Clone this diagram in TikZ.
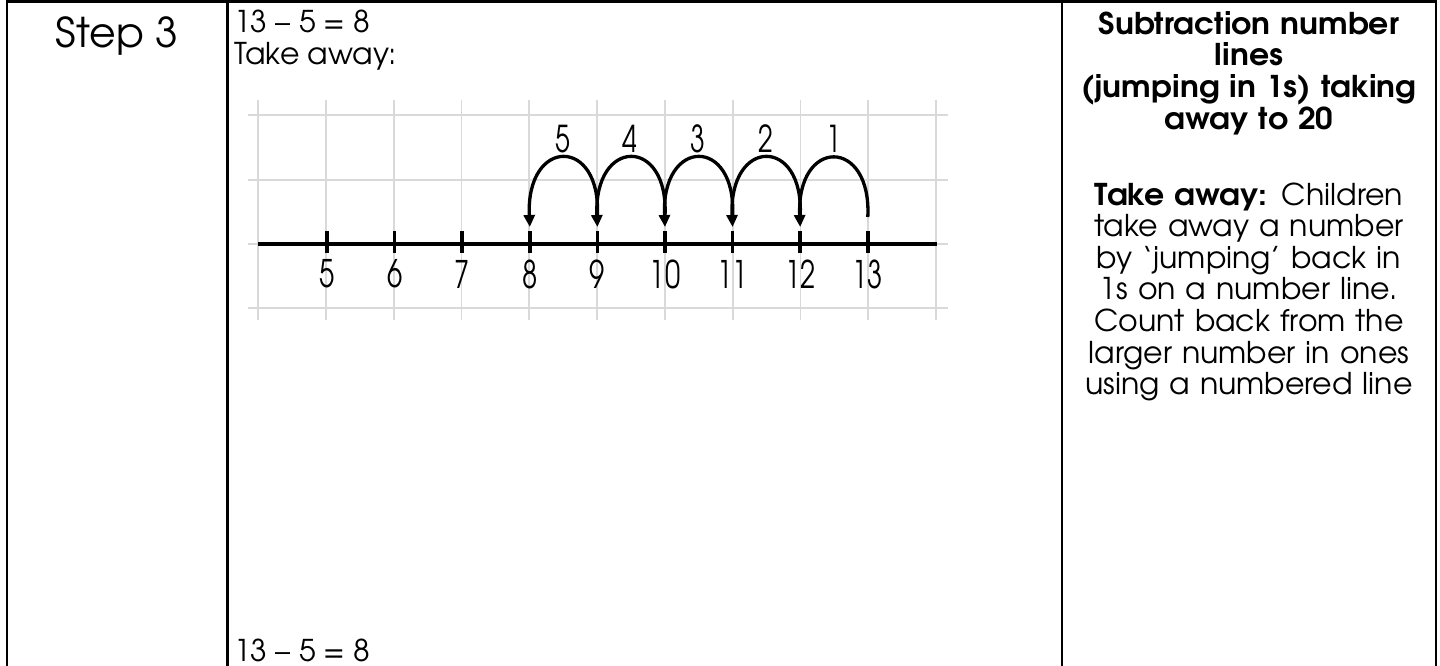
\documentclass[tikz,border=0pt]{standalone}
\usepackage{fontspec}
\setmainfont{texgyreadventor}[Extension=.otf, UprightFont=*-regular, BoldFont=*-bold, ItalicFont=*-italic, BoldItalicFont=*-bolditalic, BoldFeatures={FakeStretch=1.05}]
\newfontfamily\numfont{texgyreadventor}[Extension=.otf, UprightFont=*-regular, FakeStretch=0.72]
\usetikzlibrary{arrows.meta}
\tikzset{
  border/.style={line width=2.2pt, black},
  gridline/.style={line width=1.8pt, black!15},
  axisline/.style={line width=4pt, black},
  tickmark/.style={line width=3.5pt, black},
  jump/.style={line width=3.3pt, black, -{Triangle[length=12pt,width=11pt]}},
  ticklabel/.style={font=\numfont\fontsize{38}{38}\selectfont, inner sep=0pt},
  jumplabel/.style={font=\numfont\fontsize{37}{37}\selectfont, inner sep=0pt},
  bodytext/.style={font=\fontsize{30}{31.6}\selectfont, inner sep=0pt, anchor=base west},
}
\begin{document}
\begin{tikzpicture}[x=1pt,y=-1pt]
\useasboundingbox (0,0) rectangle (1440,666);
\fill[white] (0,0) rectangle (1440,666);

% table borders
\draw[border] (6,1.5) -- (1437,1.5);
\draw[border] (7,0.5) -- (7,666);
\draw[border] (227.5,0.5) -- (227.5,666);
\draw[border] (1062,0.5) -- (1062,666);
\draw[border] (1436,0.5) -- (1436,666);

% column 1
\node[font=\fontsize{41}{41}\selectfont, inner sep=0pt, anchor=base] (step) at (117,48) {Step 3};

% column 2 texts
\node[bodytext] (eq1) at (234,33) {13 – 5 = 8};
\node[bodytext] (take) at (234,64.5) {Take away:};
\node[bodytext] (eq2) at (234,661) {13 – 5 = 8};

% grid
\foreach \i in {0,...,10} {
  \draw[gridline] (258+67.8*\i,100) -- (258+67.8*\i,320);
}
\foreach \yy in {115,180,244,308} {
  \draw[gridline] (248,\yy) -- (948,\yy);
}

% axis
\coordinate (axL) at (258,244);
\coordinate (axR) at (937,244);
\draw[axisline] (axL) -- (axR);

% ticks and labels
\foreach \n [count=\k from 0] in {5,...,13} {
  \coordinate (t\n) at (327+67.6*\k,244);
  \draw[tickmark] (327+67.6*\k,231) -- (327+67.6*\k,253);
  \node[ticklabel] (l\n) at (327+67.6*\k,274) {\n};
}

% jump start / end points
\coordinate (s13) at ([yshift=27pt]t13);
\foreach \b in {8,...,12} {
  \coordinate (e\b) at ([yshift=17pt]t\b);
  \coordinate (s\b) at ([yshift=28pt]t\b);
}
\foreach \a/\b in {13/12,12/11,11/10,10/9,9/8} {
  \draw[jump] (s\a) .. controls ([xshift=4pt,yshift=80pt]s\a) and ([xshift=-4pt,yshift=90pt]e\b) .. (e\b);
}

\node[jumplabel] (j1) at (834,139) {1};
\node[jumplabel] (j2) at (766,139) {2};
\node[jumplabel] (j3) at (698,139) {3};
\node[jumplabel] (j4) at (630,139) {4};
\node[jumplabel] (j5) at (563,139) {5};

% column 3
\node[inner sep=0pt, anchor=north, text width=372pt, align=center,
      font=\fontsize{30}{31.6}\selectfont] (desc) at (1249,11)
{\textbf{Subtraction number}\\
 \textbf{lines}\\
 \textbf{(jumping in 1s) taking}\\
 \textbf{away to 20}\\[44.4pt]
 \textbf{Take away:} Children\\
 take away a number\\
 by ‘jumping’ back in\\
 1s on a number line.\\
 Count back from the\\
 larger number in ones\\
 using a numbered line};
\end{tikzpicture}
\end{document}
